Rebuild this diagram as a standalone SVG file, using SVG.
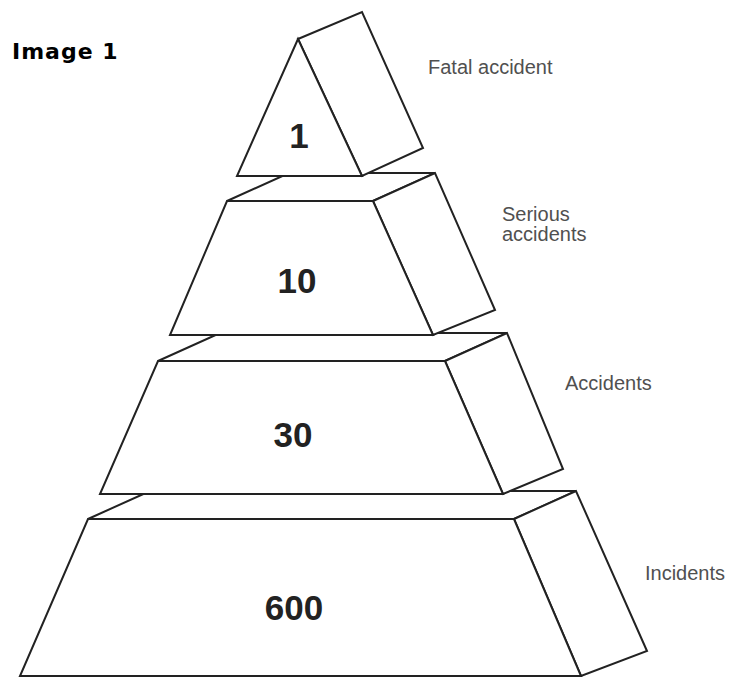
<svg xmlns="http://www.w3.org/2000/svg" width="730" height="677" viewBox="0 0 730 677">
<style>
  .face { fill: #ffffff; stroke: #222222; stroke-width: 2; stroke-linejoin: miter; }
  .num { font-family: "Liberation Sans", Arial, sans-serif; font-weight: bold; font-size: 35px; fill: #222222; text-anchor: middle; }
  .lbl { font-family: "Liberation Sans", Arial, sans-serif; font-size: 20px; fill: #505050; }
  .title { font-family: "DejaVu Sans", Verdana, sans-serif; font-weight: bold; font-size: 22px; fill: #000000; letter-spacing: 1px; }
</style>
<rect width="730" height="677" fill="#ffffff"/>
<text class="title" x="12" y="59">Image 1</text>

<g id="tier-incidents">
  <polygon class="face" points="88,519 514,519 576,491 150,491"/>
  <polygon class="face" points="514,519 576,491 647,651 581,676"/>
  <polygon class="face" points="88,519 514,519 581,676 20,676"/>
  <text class="num" x="294" y="620">600</text>
  <text class="lbl" x="645" y="580">Incidents</text>
</g>

<g id="tier-accidents">
  <polygon class="face" points="158,361 445,361 507,333 220,333"/>
  <polygon class="face" points="445,361 507,333 563,469 503,494"/>
  <polygon class="face" points="158,361 445,361 503,494 100,494"/>
  <text class="num" x="293" y="447">30</text>
  <text class="lbl" x="565" y="390">Accidents</text>
</g>

<g id="tier-serious">
  <polygon class="face" points="227,201 373,201 435,173 289,173"/>
  <polygon class="face" points="373,201 435,173 495,310 433,335"/>
  <polygon class="face" points="227,201 373,201 433,335 170,335"/>
  <text class="num" x="297" y="293">10</text>
  <text class="lbl" x="502" y="221">Serious</text>
  <text class="lbl" x="502" y="241">accidents</text>
</g>

<g id="tier-fatal">
  <polygon class="face" points="298,39 362,12 423,148 362,176"/>
  <polygon class="face" points="298,39 362,176 237,176"/>
  <text class="num" x="299" y="148">1</text>
  <text class="lbl" x="428" y="74">Fatal accident</text>
</g>

<g id="connectors"/>
</svg>
